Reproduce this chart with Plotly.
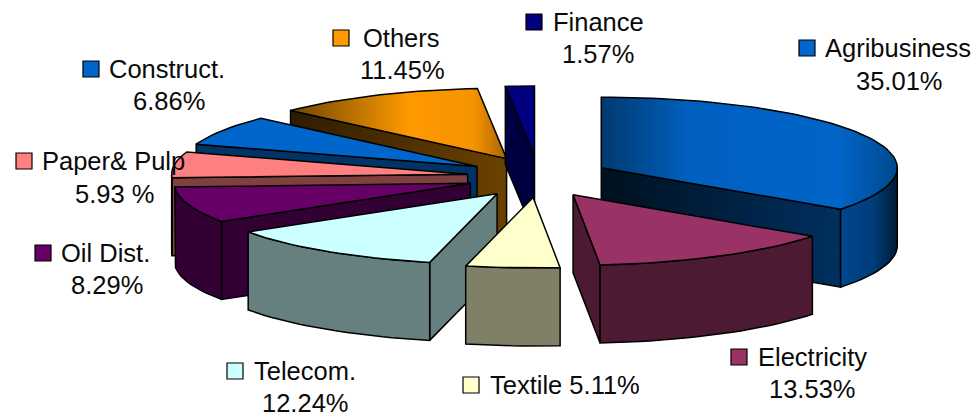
import math
import plotly.graph_objects as go

# ---- data ----
categories = ["Agribusiness", "Electricity", "Textile", "Telecom.", "Oil Dist.",
              "Paper& Pulp", "Construct.", "Others", "Finance"]
values = [35.01, 13.53, 5.11, 12.24, 8.29, 5.93, 6.86, 11.45, 1.57]
value_labels = ["35.01%", "13.53%", "5.11%", "12.24%", "8.29%", "5.93 %", "6.86%", "11.45%", "1.57%"]

# ---- styles ----
top_colors = ["#0066cc", "#993366", "#ffffcc", "#ccffff", "#660066", "#ff8080", "#0066cc", "#ff9900", "#000080"]
side_colors = ["#003366", "#4d1a33", "#808066", "#668080", "#330033", "#804040", "#003366", "#804d00", "#000040"]
top_grad = {0: [[0, "#003a70"], [0.3, "#0060c0"], [0.8, "#0064c8"], [1, "#004a8e"]],
            7: [[0, "#6e4500"], [0.55, "#ff9900"], [0.85, "#f59300"], [1, "#a86500"]]}
cut_grad = {0: [[0, "#00101f"], [1, "#003060"]],
            7: [[0, "#2e1c00"], [1, "#6b4200"]]}
wall_grad = {0: [[0, "#00478e"], [0.6, "#003c78"], [1, "#001a33"]]}
draw_order = [7, 8, 6, 5, 4, 3, 0, 1, 2]

# ---- layout of the pie, in pixels ----
W, H = 973, 416
CX, CY = 538, 177
RX, RY = 296, 70.5
EX, EY = 71, 20.5
DEPTH = 78
FONT = dict(family="Liberation Sans, Arial, sans-serif", size=25.5, color="#0a0a0a")

# name label anchors: square x, y, name left x, value centre x, value y
label_pos = {
    "Agribusiness": (807, 48, 823, 899, 81),
    "Electricity": (739, 357, 756, 812, 389),
    "Textile": (471, 385, 488, None, None),
    "Telecom.": (235, 371, 252, 305, 402.5),
    "Oil Dist.": (43, 253, 59, 107, 285),
    "Paper& Pulp": (24, 161, 40, 114, 194),
    "Construct.": (91, 69, 107, 169, 101),
    "Others": (341, 38, 361, 402, 70),
    "Finance": (534, 22, 551, 598, 54),
}


def pt(apex, deg):
    a = math.radians(deg)
    return apex[0] + RX * math.sin(a), apex[1] - RY * math.cos(a)


def arc(apex, a, b):
    n = max(2, int(abs(b - a) / 2) + 2)
    return [pt(apex, a + (b - a) * i / (n - 1)) for i in range(n)]


def poly(points, color, grad=None):
    xs = [p[0] for p in points] + [points[0][0]]
    ys = [p[1] for p in points] + [points[0][1]]
    t = go.Scatter(x=xs, y=ys, mode="lines", fill="toself", fillcolor=color,
                   line=dict(color="#000000", width=1.5), hoverinfo="skip", showlegend=False)
    if grad:
        t.fillgradient = dict(type="horizontal", colorscale=grad)
    return t


def down(points):
    return [(x, y + DEPTH) for x, y in points]


total = sum(values)
angles = []
acc = 0.0
for v in values:
    angles.append((acc / total * 360, (acc + v) / total * 360))
    acc += v

fig = go.Figure()
for i in draw_order:
    a, b = angles[i]
    mid = math.radians((a + b) / 2)
    apex = (CX + EX * math.sin(mid), CY - EY * math.cos(mid))
    # cut faces facing the viewer
    for ang, sign in ((a, -90), (b, 90)):
        if -math.cos(math.radians(ang + sign)) > 0.001:
            edge = [apex, pt(apex, ang)]
            fig.add_trace(poly(edge + down(edge)[::-1], side_colors[i], cut_grad.get(i)))
    # outer wall
    lo, hi = max(a, 90), min(b, 270)
    if hi > lo:
        w = arc(apex, lo, hi)
        fig.add_trace(poly(w + down(w)[::-1], side_colors[i], wall_grad.get(i)))
    # top
    fig.add_trace(poly([apex] + arc(apex, a, b), top_colors[i], top_grad.get(i)))

# labels
for name, val, col in zip(categories, value_labels, top_colors):
    sx, sy, tx, vx, vy = label_pos[name]
    fig.add_trace(go.Scatter(x=[sx], y=[sy], mode="markers", hoverinfo="skip", showlegend=False,
                             marker=dict(symbol="square", size=16, color=col,
                                         line=dict(color="#000000", width=1.2))))
    head = name if vx is not None else f"{name} {val}"
    fig.add_annotation(x=tx, y=sy, text=head, xanchor="left", yanchor="middle",
                       showarrow=False, font=FONT, xref="x", yref="y")
    if vx is not None:
        fig.add_annotation(x=vx, y=vy, text=val, xanchor="center", yanchor="middle",
                           showarrow=False, font=FONT, xref="x", yref="y")

fig.update_layout(width=W, height=H, margin=dict(l=0, r=0, t=0, b=0),
                  paper_bgcolor="white", plot_bgcolor="white", showlegend=False,
                  xaxis=dict(range=[0, W], visible=False),
                  yaxis=dict(range=[H, 0], visible=False))
fig.write_html("out.html", config={"displayModeBar": False},
               post_script="document.body.style.margin='0';document.body.style.overflow='hidden';")
